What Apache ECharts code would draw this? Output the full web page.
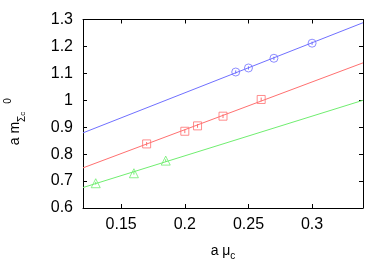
<!DOCTYPE html>
<html><head><meta charset="utf-8">
<script src="https://cdn.jsdelivr.net/npm/echarts@6/dist/echarts.min.js"></script>
<style>html,body{margin:0;padding:0;background:#fff}#c{width:392px;height:274px}</style>
</head><body><div id="c"></div>
<script>
// data
const blueX = [0.24, 0.25, 0.27, 0.30];
const blueY = [1.105, 1.12, 1.156, 1.212];
const redX = [0.17, 0.20, 0.21, 0.23, 0.26];
const redY = [0.838, 0.885, 0.905, 0.941, 1.003];
const greenX = [0.13, 0.16, 0.185];
const greenY = [0.692, 0.729, 0.776];
const errBlue = [0.006, 0.006, 0.006, 0.006];
const errRed = [0.007, 0.007, 0.007, 0.007, 0.007];
const errGreen = [0.005, 0.005, 0.005];
const fitX = [0.12, 0.34];
const blueFit = [0.879, 1.288];
const redFit = [0.749, 1.139];
const greenFit = [0.676, 1.0];
const xTicks = [0.15, 0.2, 0.25, 0.3];
const yTicks = [0.6, 0.7, 0.8, 0.9, 1.0, 1.1, 1.2, 1.3];

const BLUE = '#7070ff', RED = '#ff7070', GREEN = '#70ee70';
const FONT = 'Liberation Sans';
const zip = (a, b) => a.map((v, i) => [v, b[i]]);

function errSeries(xs, ys, es, color) {
  return {
    type: 'custom', silent: true, z: 3,
    data: xs.map((x, i) => [x, ys[i] - es[i], ys[i] + es[i]]),
    renderItem(params, api) {
      const p1 = api.coord([api.value(0), api.value(1)]);
      const p2 = api.coord([api.value(0), api.value(2)]);
      return { type: 'line', shape: { x1: p1[0], y1: p1[1], x2: p2[0], y2: p2[1] },
        style: { stroke: color, lineWidth: 1 } };
    }
  };
}
function fitSeries(ys, color) {
  return { type: 'line', data: zip(fitX, ys), symbol: 'none', silent: true,
    lineStyle: { color: color, width: 1 }, z: 2 };
}
function ptSeries(xs, ys, symbol, size, color) {
  return { type: 'scatter', data: zip(xs, ys), symbol: symbol, symbolSize: size,
    itemStyle: { color: 'rgba(0,0,0,0)', borderColor: color, borderWidth: 1 }, z: 4 };
}

const axisCommon = {
  axisLine: { show: true, lineStyle: { color: '#000', width: 1 } },
  splitLine: { show: false },
  axisLabel: { color: '#000', fontFamily: FONT, fontSize: 16 },
};
const chart = echarts.init(document.getElementById('c'));
chart.setOption({
  animation: false,
  backgroundColor: '#fff',
  grid: { left: 83, top: 19.5, right: 29, bottom: 66, containLabel: false, outerBoundsMode: 'none' },
  xAxis: [{
    type: 'value', min: 0.12, max: 0.34, position: 'bottom',
    ...axisCommon,
    axisTick: { show: true, inside: true, length: 4, lineStyle: { color: '#000' }, customValues: xTicks },
    axisLabel: { ...axisCommon.axisLabel, margin: 9, customValues: xTicks, formatter: v => String(+(+v).toFixed(2)) },
    name: '{t|a μ}{s|c}', nameLocation: 'middle', nameGap: 33,
    nameTextStyle: { rich: {
      t: { fontFamily: FONT, fontSize: 14, color: '#000', lineHeight: 20, verticalAlign: 'middle' },
      s: { fontFamily: FONT, fontSize: 10, color: '#000', lineHeight: 10, verticalAlign: 'bottom' }
    } }
  }, {
    type: 'value', min: 0.12, max: 0.34, position: 'top',
    axisLine: { show: true, lineStyle: { color: '#000' } },
    axisTick: { show: true, inside: true, length: 4, lineStyle: { color: '#000' }, customValues: xTicks },
    axisLabel: { show: false }, splitLine: { show: false }
  }],
  yAxis: [{
    type: 'value', min: 0.6, max: 1.3, interval: 0.1, position: 'left',
    ...axisCommon,
    axisTick: { show: true, inside: true, length: 4, lineStyle: { color: '#000' } },
    axisLabel: { ...axisCommon.axisLabel, margin: 10, formatter: v => String(+(+v).toFixed(1)) },
    name: '{t|a m}{s|Σ}{ss|c}{p|0}', nameLocation: 'middle', nameGap: 56, nameRotate: 90,
    nameTextStyle: { rich: {
      t: { fontFamily: FONT, fontSize: 14, color: '#000', lineHeight: 24, verticalAlign: 'middle' },
      s: { fontFamily: FONT, fontSize: 10, color: '#000', lineHeight: 10, verticalAlign: 'bottom' },
      ss: { fontFamily: FONT, fontSize: 8, color: '#000', lineHeight: 6, verticalAlign: 'bottom' },
      p: { fontFamily: FONT, fontSize: 10, color: '#000', lineHeight: 18, verticalAlign: 'top', padding: [0, 16, 0, 8] }
    } }
  }, {
    type: 'value', min: 0.6, max: 1.3, interval: 0.1, position: 'right',
    axisLine: { show: true, lineStyle: { color: '#000' } },
    axisTick: { show: true, inside: true, length: 4, lineStyle: { color: '#000' } },
    axisLabel: { show: false }, splitLine: { show: false }
  }],
  series: [
    fitSeries(blueFit, BLUE), fitSeries(redFit, RED), fitSeries(greenFit, GREEN),
    errSeries(blueX, blueY, errBlue, BLUE), errSeries(redX, redY, errRed, RED), errSeries(greenX, greenY, errGreen, GREEN),
    ptSeries(blueX, blueY, 'circle', 8, BLUE),
    ptSeries(redX, redY, 'rect', 8, RED),
    ptSeries(greenX, greenY, 'triangle', 9, GREEN)
  ]
});
</script></body></html>
